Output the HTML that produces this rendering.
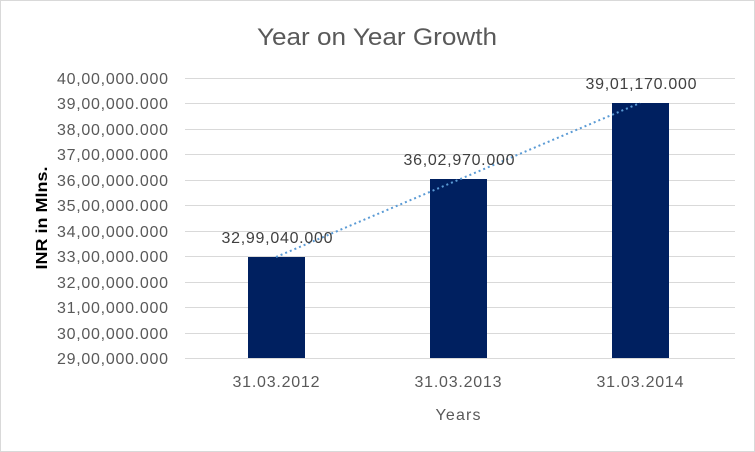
<!DOCTYPE html>
<html><head><meta charset="utf-8"><style>body{margin:0;background:#fff}svg{display:block}</style></head><body>
<svg width="755" height="452" xmlns="http://www.w3.org/2000/svg" font-family="Liberation Sans, sans-serif">
<rect x="0.5" y="0.5" width="754" height="451" fill="#fff" stroke="#d9d9d9"/>
<text x="377" y="45" text-anchor="middle" font-size="24" fill="#595959" textLength="240" lengthAdjust="spacingAndGlyphs">Year on Year Growth</text>
<g stroke="#d9d9d9" stroke-width="1">
<line x1="185" x2="735" y1="78.5" y2="78.5"/><line x1="185" x2="735" y1="103.5" y2="103.5"/><line x1="185" x2="735" y1="129.5" y2="129.5"/><line x1="185" x2="735" y1="154.5" y2="154.5"/><line x1="185" x2="735" y1="180.5" y2="180.5"/><line x1="185" x2="735" y1="205.5" y2="205.5"/><line x1="185" x2="735" y1="231.5" y2="231.5"/><line x1="185" x2="735" y1="256.5" y2="256.5"/><line x1="185" x2="735" y1="282.5" y2="282.5"/><line x1="185" x2="735" y1="307.5" y2="307.5"/><line x1="185" x2="735" y1="333.5" y2="333.5"/><line x1="185" x2="735" y1="358.5" y2="358.5"/>
</g>
<g font-size="16" fill="#595959" lengthAdjust="spacingAndGlyphs">
<text x="57" y="84" textLength="111">40,00,000.000</text><text x="57" y="109" textLength="111">39,00,000.000</text><text x="57" y="135" textLength="111">38,00,000.000</text><text x="57" y="160" textLength="111">37,00,000.000</text><text x="57" y="186" textLength="111">36,00,000.000</text><text x="57" y="211" textLength="111">35,00,000.000</text><text x="57" y="237" textLength="111">34,00,000.000</text><text x="57" y="262" textLength="111">33,00,000.000</text><text x="57" y="288" textLength="111">32,00,000.000</text><text x="57" y="313" textLength="111">31,00,000.000</text><text x="57" y="339" textLength="111">30,00,000.000</text><text x="57" y="364" textLength="111">29,00,000.000</text>
</g>
<text transform="translate(47,218) rotate(-90)" text-anchor="middle" font-size="16" font-weight="bold" fill="#000" textLength="103" lengthAdjust="spacingAndGlyphs">INR in Mlns.</text>
<g fill="#002060">
<rect x="248" y="257" width="57" height="101"/><rect x="430" y="179" width="57" height="179"/><rect x="612" y="103" width="57" height="255"/>
</g>
<line x1="276" y1="257" x2="640" y2="103" stroke="#5b9bd5" stroke-width="2" stroke-dasharray="2,3"/>
<g font-size="16" fill="#404040" text-anchor="middle" lengthAdjust="spacingAndGlyphs">
<text x="277" y="243" textLength="111">32,99,040.000</text><text x="459" y="165" textLength="111">36,02,970.000</text><text x="641" y="89" textLength="111">39,01,170.000</text>
</g>
<g font-size="16" fill="#595959" text-anchor="middle" lengthAdjust="spacingAndGlyphs">
<text x="276" y="387" textLength="87">31.03.2012</text><text x="458" y="387" textLength="87">31.03.2013</text><text x="640" y="387" textLength="87">31.03.2014</text>
<text x="458" y="420" textLength="45">Years</text>
</g>
</svg>
</body></html>
